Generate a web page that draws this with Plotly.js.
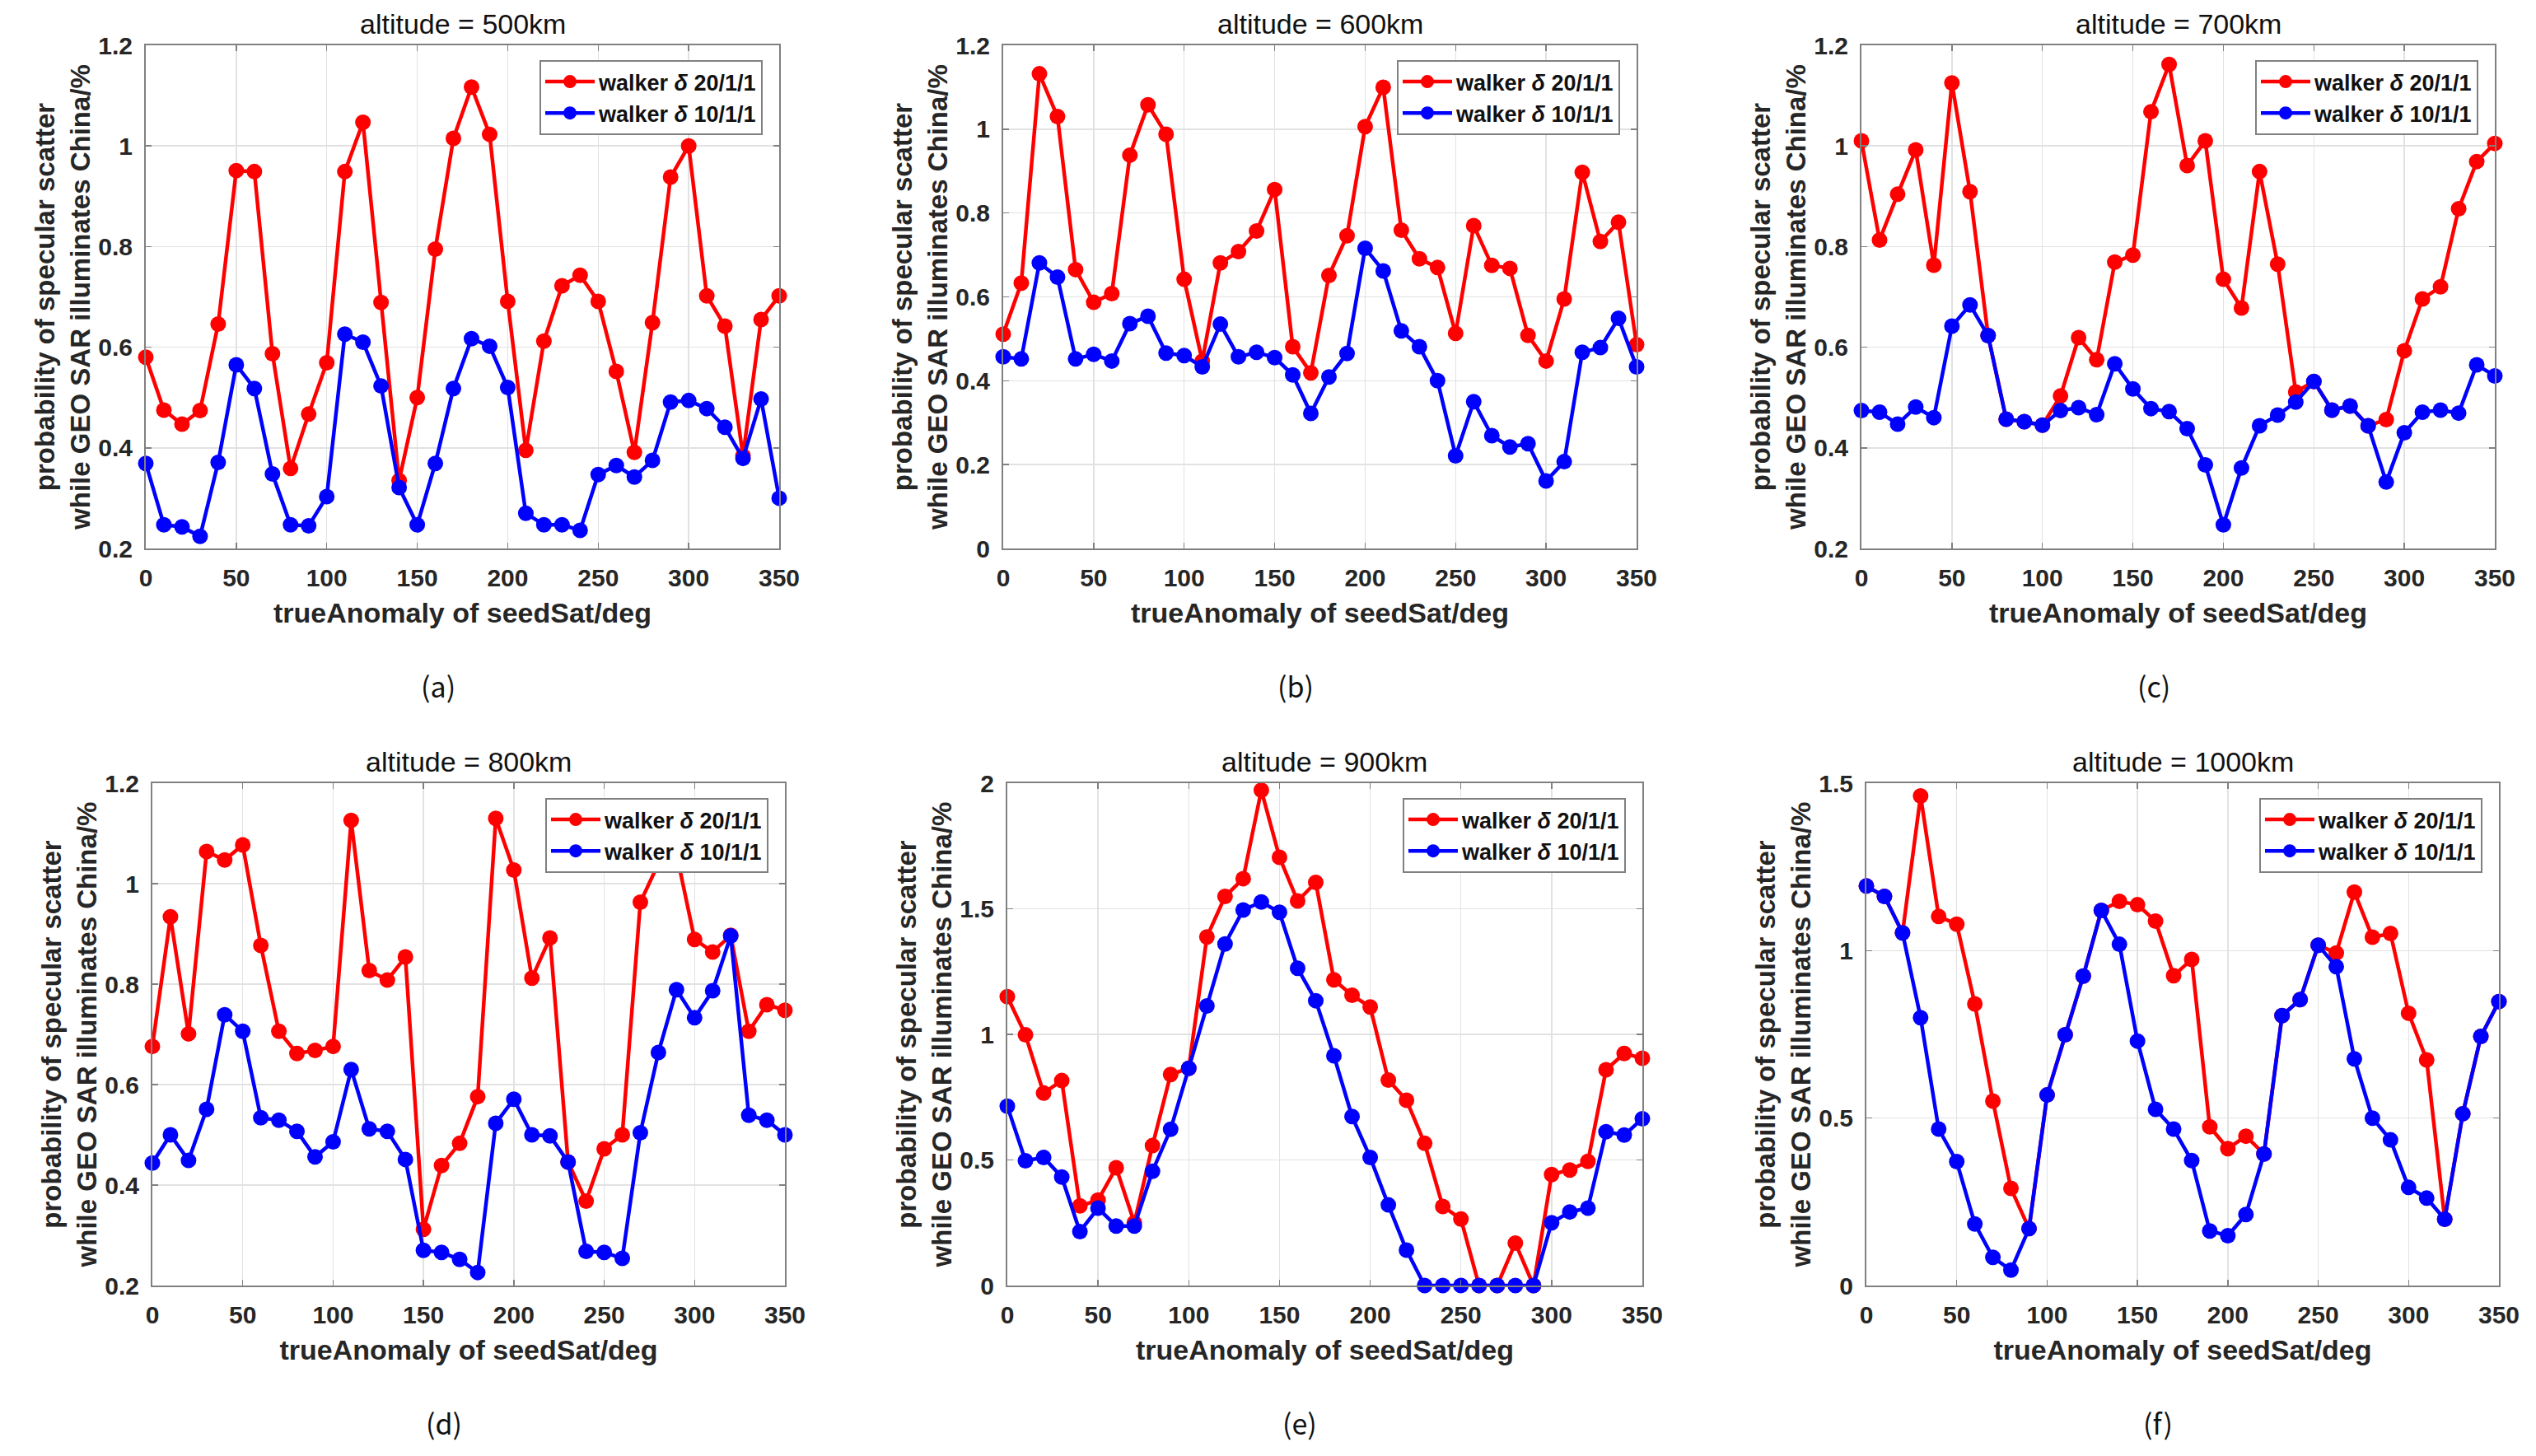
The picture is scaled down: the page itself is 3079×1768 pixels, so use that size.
<!DOCTYPE html>
<html>
<head>
<meta charset="utf-8">
<script src="https://cdn.plot.ly/plotly-3.0.1.min.js"></script>
<style>html,body{margin:0;padding:0;background:#fff;}#chart{width:3079px;height:1768px;}</style>
</head>
<body>
<div id="chart"></div>
<script>
// ---------- DATA ----------
const trueAnomaly = [0,10,20,30,40,50,60,70,80,90,100,110,120,130,140,150,160,170,180,190,200,210,220,230,240,250,260,270,280,290,300,310,320,330,340,350];

const seriesNames = ['walker <i>δ</i> 20/1/1', 'walker <i>δ</i> 10/1/1'];
const panelTitles = ['altitude = 500km','altitude = 600km','altitude = 700km','altitude = 800km','altitude = 900km','altitude = 1000km'];
const panelLabels = ['(a)','(b)','(c)','(d)','(e)','(f)'];

const alt500_w20 = [0.58,0.475,0.447,0.474,0.646,0.951,0.949,0.587,0.359,0.467,0.569,0.949,1.047,0.689,0.335,0.50,0.795,1.015,1.117,1.023,0.691,0.395,0.612,0.722,0.743,0.691,0.552,0.391,0.649,0.938,1.0,0.702,0.642,0.384,0.655,0.702];
const alt500_w10 = [0.369,0.247,0.243,0.224,0.371,0.565,0.518,0.348,0.247,0.245,0.303,0.626,0.610,0.523,0.321,0.247,0.369,0.518,0.617,0.602,0.520,0.270,0.247,0.247,0.236,0.347,0.365,0.342,0.375,0.491,0.494,0.478,0.441,0.379,0.497,0.300];

const alt600_w20 = [0.511,0.633,1.132,1.030,0.665,0.587,0.608,0.938,1.058,0.988,0.642,0.447,0.681,0.708,0.757,0.856,0.481,0.419,0.651,0.746,1.006,1.10,0.759,0.691,0.670,0.513,0.770,0.675,0.668,0.508,0.447,0.595,0.897,0.732,0.778,0.486];
const alt600_w10 = [0.457,0.452,0.681,0.647,0.452,0.463,0.447,0.536,0.554,0.466,0.460,0.433,0.535,0.457,0.468,0.455,0.414,0.322,0.409,0.465,0.716,0.662,0.519,0.481,0.400,0.221,0.350,0.269,0.242,0.250,0.161,0.207,0.468,0.479,0.549,0.433];

const alt700_w20 = [1.010,0.813,0.904,0.992,0.763,1.125,0.909,0.623,0.457,0.452,0.445,0.503,0.619,0.575,0.769,0.783,1.068,1.162,0.961,1.010,0.735,0.678,0.949,0.765,0.511,0.532,0.475,0.483,0.444,0.456,0.593,0.696,0.720,0.875,0.969,1.005];
const alt700_w10 = [0.474,0.471,0.447,0.481,0.460,0.642,0.684,0.623,0.457,0.452,0.445,0.474,0.480,0.466,0.567,0.517,0.478,0.472,0.438,0.366,0.247,0.360,0.444,0.465,0.491,0.532,0.475,0.483,0.444,0.332,0.430,0.471,0.475,0.469,0.565,0.543];

const alt800_w20 = [0.676,0.934,0.701,1.064,1.047,1.077,0.877,0.706,0.662,0.668,0.676,1.126,0.827,0.808,0.854,0.312,0.439,0.483,0.576,1.130,1.027,0.812,0.892,0.446,0.368,0.472,0.500,0.963,1.04,1.06,0.889,0.864,0.897,0.706,0.759,0.748];
const alt800_w10 = [0.444,0.500,0.449,0.551,0.739,0.706,0.534,0.529,0.507,0.456,0.486,0.630,0.512,0.507,0.451,0.270,0.266,0.252,0.226,0.523,0.571,0.500,0.498,0.446,0.268,0.266,0.254,0.504,0.664,0.789,0.733,0.787,0.896,0.539,0.529,0.500];

const alt900_w20 = [1.150,0.998,0.766,0.816,0.317,0.340,0.469,0.25,0.557,0.840,0.865,1.388,1.549,1.620,1.972,1.705,1.531,1.605,1.217,1.156,1.109,0.818,0.738,0.566,0.315,0.265,0,0,0.169,0,0.442,0.460,0.494,0.859,0.924,0.905];
const alt900_w10 = [0.714,0.497,0.510,0.432,0.215,0.308,0.237,0.237,0.455,0.622,0.865,1.113,1.360,1.495,1.527,1.486,1.263,1.134,0.915,0.673,0.510,0.321,0.141,0,0,0,0,0,0,0,0.250,0.293,0.308,0.612,0.599,0.664];

const alt1000_w20 = [1.193,1.162,1.053,1.462,1.102,1.079,0.841,0.551,0.290,0.170,0.569,0.749,0.924,1.120,1.147,1.137,1.088,0.925,0.974,0.474,0.409,0.446,0.393,0.806,0.854,1.016,0.993,1.175,1.040,1.051,0.813,0.674,0.198,0.513,0.744,0.848];
const alt1000_w10 = [1.193,1.162,1.053,0.800,0.467,0.370,0.184,0.084,0.046,0.170,0.569,0.749,0.924,1.120,1.019,0.730,0.526,0.467,0.373,0.163,0.149,0.212,0.393,0.806,0.854,1.016,0.952,0.677,0.500,0.435,0.293,0.261,0.198,0.513,0.744,0.848];

const yRanges = [[0.2,1.2],[0,1.2],[0.2,1.2],[0.2,1.2],[0,2],[0,1.5]];
const yDticks = [0.2,0.2,0.2,0.2,0.5,0.5];

const xTitle = 'trueAnomaly of seedSat/deg';
const yTitle = 'probability of specular scatter<br>while GEO SAR illuminates China/%';

// ---------- LAYOUT (pixel boxes of each plot area) ----------
const W = 3079, H = 1768;
const boxes = [
  {l:177, r:946, t:55, b:666},
  {l:1218, r:1987, t:55, b:666},
  {l:2260, r:3029, t:55, b:666},
  {l:185, r:953, t:951, b:1561},
  {l:1223, r:1994, t:951, b:1561},
  {l:2266, r:3034, t:951, b:1561}
];
const seriesData = [
  [alt500_w20, alt500_w10],
  [alt600_w20, alt600_w10],
  [alt700_w20, alt700_w10],
  [alt800_w20, alt800_w10],
  [alt900_w20, alt900_w10],
  [alt1000_w20, alt1000_w10]
];
const colors = ['#ff0000', '#0000ff'];

const FONT = 'Liberation Sans, Arial, sans-serif';
const traces = [];
const layout = {
  width: W, height: H,
  margin: {l:0, r:0, t:0, b:0},
  paper_bgcolor: '#ffffff',
  plot_bgcolor: '#ffffff',
  font: {family: FONT, color: '#262626'},
  annotations: [],
  showlegend: true
};

boxes.forEach((bx, i) => {
  const n = i + 1;
  const xa = 'xaxis' + (n === 1 ? '' : n);
  const ya = 'yaxis' + (n === 1 ? '' : n);
  const xr = 'x' + (n === 1 ? '' : n);
  const yr = 'y' + (n === 1 ? '' : n);
  const lg = 'legend' + (n === 1 ? '' : n);
  const axCommon = {
    showline: true, linecolor: '#808080', linewidth: 2, mirror: 'ticks',
    ticks: 'inside', ticklen: 7, tickwidth: 1.5, tickcolor: '#808080',
    showgrid: true, gridcolor: '#e2e2e2', gridwidth: 1.5,
    zeroline: false, fixedrange: true,
    tickfont: {family: FONT, size: 30, weight: 'bold', color: '#262626'}
  };
  layout[xa] = Object.assign({}, axCommon, {
    domain: [bx.l / W, bx.r / W],
    anchor: yr,
    range: [0, 350], dtick: 50, tick0: 0,
    ticklabelstandoff: 8,
    title: {text: xTitle, font: {family: FONT, size: 34, weight: 'bold', color: '#262626'}, standoff: 15}
  });
  layout[ya] = Object.assign({}, axCommon, {
    domain: [1 - bx.b / H, 1 - bx.t / H],
    anchor: xr,
    range: yRanges[i], dtick: yDticks[i], tick0: 0,
    ticklabelstandoff: 8,
    title: {text: yTitle, font: {family: FONT, size: 33, weight: 'bold', color: '#262626'}, standoff: 0}
  });
  layout[lg] = {
    x: (bx.r - 20) / W, y: 1 - (bx.t + 18) / H,
    xanchor: 'right', yanchor: 'top',
    bgcolor: '#ffffff', bordercolor: '#808080', borderwidth: 2,
    font: {family: FONT, size: 27, weight: 'bold', color: '#111111'},
    tracegroupgap: 0, itemwidth: 60
  };
  seriesData[i].forEach((vals, k) => {
    traces.push({
      type: 'scatter', mode: 'lines+markers',
      x: trueAnomaly, y: vals,
      xaxis: xr, yaxis: yr,
      name: seriesNames[k],
      legend: lg,
      line: {color: colors[k], width: 4.5},
      marker: {color: colors[k], size: 19, symbol: 'circle'},
      cliponaxis: false
    });
  });
  layout.annotations.push({
    xref: 'paper', yref: 'paper',
    x: (bx.l + bx.r) / 2 / W, y: 1 - (bx.t - 26) / H,
    xanchor: 'center', yanchor: 'middle', showarrow: false,
    text: panelTitles[i],
    font: {family: FONT, size: 34, color: '#111111'}
  });
  layout.annotations.push({
    xref: 'paper', yref: 'paper',
    x: (bx.l + bx.r) / 2 / W - 30 / W, y: 1 - (bx.b + 166) / H,
    xanchor: 'center', yanchor: 'middle', showarrow: false,
    text: panelLabels[i],
    font: {family: 'Noto Sans CJK SC, sans-serif', size: 34, color: '#111111'}
  });
});

Plotly.newPlot('chart', traces, layout, {staticPlot: true, displayModeBar: false});
</script>
</body>
</html>
